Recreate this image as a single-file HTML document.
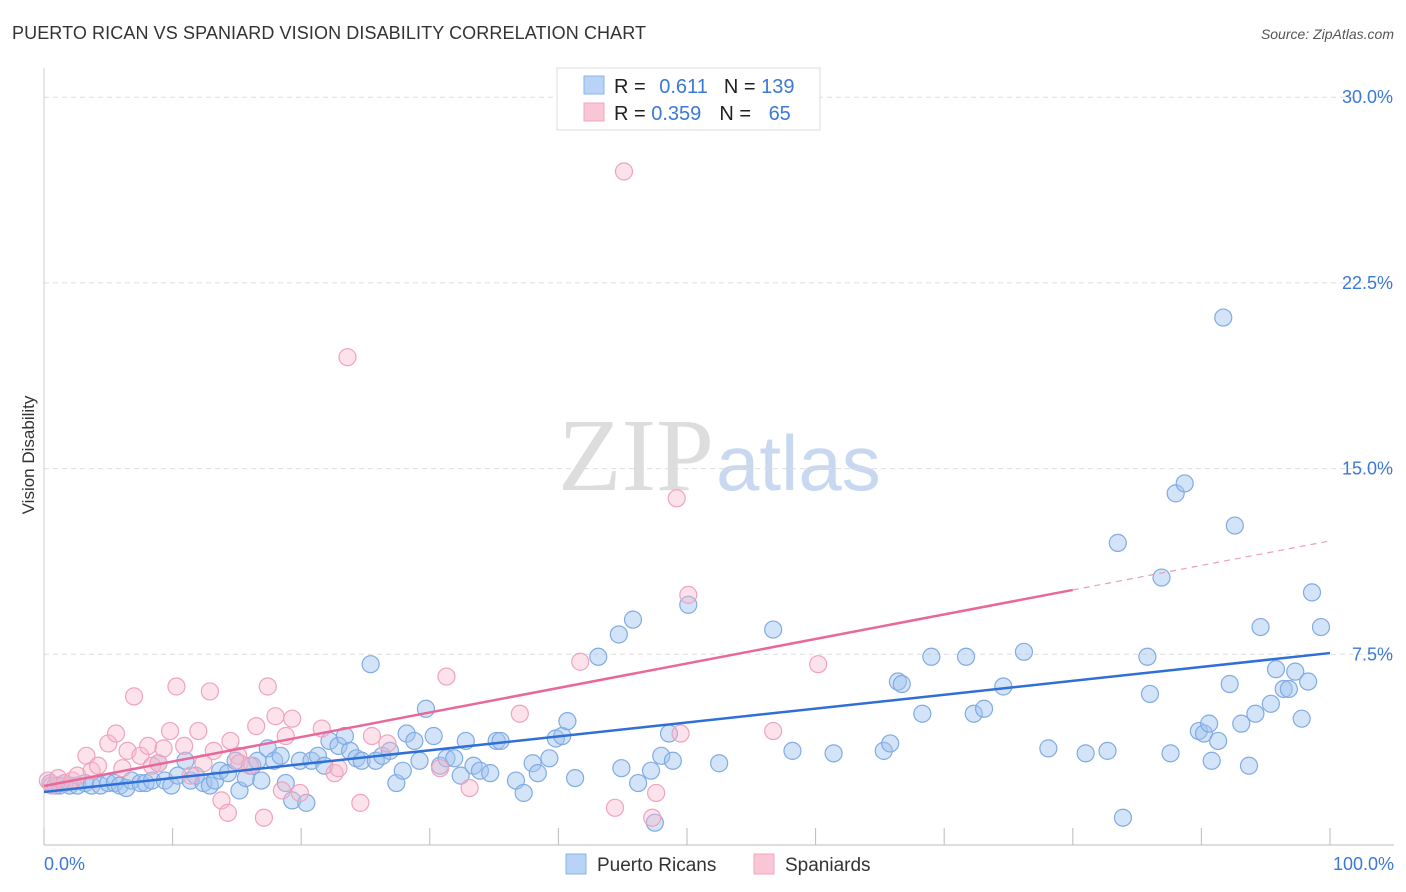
<!DOCTYPE html>
<html><head><meta charset="utf-8"><style>
body{margin:0;background:#fff;font-family:"Liberation Sans",sans-serif;}
svg{display:block}
</style></head><body>
<svg id="chart" width="1406" height="892" xmlns="http://www.w3.org/2000/svg">
<text x="12" y="39" font-size="18" letter-spacing="0.1" fill="#333">PUERTO RICAN VS SPANIARD VISION DISABILITY CORRELATION CHART</text>
<text x="1394" y="39" font-size="14" fill="#555" font-style="italic" text-anchor="end">Source: ZipAtlas.com</text>
<text x="714" y="490" font-size="104" fill="#ddd" text-anchor="end" font-family="Liberation Serif">ZIP</text>
<text x="716" y="490" font-size="78" fill="#c8d8f0">atlas</text>
<text x="34" y="455" font-size="17" fill="#333" transform="rotate(-90 34 455)" text-anchor="middle">Vision Disability</text>
<g id="grid"></g><g id="pts"></g><g id="lines"></g>
<g>
<rect x="557" y="68" width="263" height="62" fill="#fff" stroke="#ddd"/>
<rect x="584" y="76" width="20" height="18" fill="#b8d3f5" stroke="#8ab4ea"/>
<rect x="584" y="103" width="20" height="18" fill="#f9c6d5" stroke="#f0a5bd"/>
<text x="614" y="93" font-size="20" fill="#222">R = <tspan fill="#3b78d8" dx="8">0.611</tspan><tspan dx="16" fill="#222">N = </tspan><tspan fill="#3b78d8">139</tspan></text>
<text x="614" y="120" font-size="20" fill="#222">R = <tspan fill="#3b78d8">0.359</tspan><tspan dx="18" fill="#222">N = </tspan><tspan fill="#3b78d8" dx="12">65</tspan></text>
</g>
<g>
<rect x="566" y="854" width="20" height="20" fill="#b8d3f5" stroke="#8ab4ea"/>
<text x="597" y="871" font-size="19" fill="#333">Puerto Ricans</text>
<rect x="754" y="854" width="20" height="20" fill="#f9c6d5" stroke="#f0a5bd"/>
<text x="785" y="871" font-size="19" fill="#333">Spaniards</text>
</g>
</svg>
<script>
const yTicks=[7.5,15,22.5,30];
const yTickLabels=["7.5%","15.0%","22.5%","30.0%"];
const xTickLabels=["0.0%","100.0%"];
const blueX=[0.5,0.9,1.2,1.6,2.0,2.6,3.2,3.7,4.4,5.0,5.5,5.9,6.4,6.8,7.5,7.9,8.4,8.9,9.4,9.9,10.4,11.0,11.4,11.8,12.4,12.9,13.3,13.7,14.3,14.9,15.2,15.7,16.2,16.6,16.9,17.4,17.9,18.4,18.8,19.3,19.9,20.4,20.8,21.3,21.8,22.2,22.9,23.4,23.8,24.3,24.7,25.4,25.8,26.3,26.9,27.4,27.9,28.2,28.8,29.2,29.7,30.3,30.8,31.3,31.9,32.4,32.8,33.4,33.9,34.7,35.2,35.5,36.7,37.3,38.0,38.4,39.3,39.8,40.3,40.7,41.3,43.1,44.7,44.9,45.8,46.2,47.2,47.5,48.0,48.6,48.9,50.1,52.5,56.7,58.2,61.4,65.3,65.8,66.4,66.7,68.3,69.0,71.7,72.3,73.1,74.6,76.2,78.1,81.0,82.7,83.5,83.9,85.8,86.0,86.9,87.6,88.0,88.7,89.8,90.2,90.6,90.8,91.3,91.7,92.2,92.6,93.1,93.7,94.2,94.6,95.4,95.8,96.4,96.8,97.3,97.8,98.3,98.6,99.3];
const blueY=[2.3,2.2,2.2,2.3,2.2,2.2,2.3,2.2,2.2,2.3,2.3,2.2,2.1,2.4,2.3,2.3,2.4,3.1,2.4,2.2,2.6,3.2,2.4,2.6,2.3,2.2,2.4,2.8,2.7,3.2,2.0,2.5,3.0,3.2,2.4,3.7,3.2,3.4,2.3,1.6,3.2,1.5,3.2,3.4,3.0,4.0,3.8,4.2,3.6,3.3,3.2,7.1,3.2,3.4,3.6,2.3,2.8,4.3,4.0,3.2,5.3,4.2,3.0,3.3,3.3,2.6,4.0,3.0,2.8,2.7,4.0,4.0,2.4,1.9,3.1,2.7,3.3,4.1,4.2,4.8,2.5,7.4,8.3,2.9,8.9,2.3,2.8,0.7,3.4,4.3,3.2,9.5,3.1,8.5,3.6,3.5,3.6,3.9,6.4,6.3,5.1,7.4,7.4,5.1,5.3,6.2,7.6,3.7,3.5,3.6,12.0,0.9,7.4,5.9,10.6,3.5,14.0,14.4,4.4,4.3,4.7,3.2,4.0,21.1,6.3,12.7,4.7,3.0,5.1,8.6,5.5,6.9,6.1,6.1,6.8,4.9,6.4,10.0,8.6,9.2];
const pinkX=[0.3,0.6,1.1,1.6,2.2,2.6,3.3,3.7,4.2,5.0,5.6,6.1,6.5,7.0,7.5,8.1,8.4,8.9,9.3,9.8,10.3,10.9,11.4,12.0,12.4,12.9,13.2,13.8,14.3,14.5,15.1,15.2,16.0,16.5,17.1,17.4,18.0,18.5,18.8,19.3,19.9,21.6,22.6,22.9,23.6,24.6,25.5,26.7,30.8,31.3,33.1,37.0,41.7,44.4,45.1,47.3,47.6,49.2,49.5,50.1,56.7,60.2];
const pinkY=[2.4,2.2,2.5,2.3,2.4,2.6,3.4,2.8,3.0,3.9,4.3,2.9,3.6,5.8,3.4,3.8,3.0,3.1,3.7,4.4,6.2,3.8,2.6,4.4,3.1,6.0,3.6,1.6,1.1,4.0,3.4,3.1,3.0,4.6,0.9,6.2,5.0,2.0,4.2,4.9,1.9,4.5,2.7,2.9,19.5,1.5,4.2,3.9,2.9,6.6,2.1,5.1,7.2,1.3,27.0,0.9,1.9,13.8,4.3,9.9,4.4,7.1];
const blueLine=[1.94,7.55];
const pinkLine=[2.18,12.08];
const X=v=>44+v*12.86, Y=v=>840-v*24.76;
const NS="http://www.w3.org/2000/svg";
function mk(p,t,a){const e=document.createElementNS(NS,t);for(const k in a)e.setAttribute(k,a[k]);p.appendChild(e);return e;}
const g=document.getElementById('grid');
yTicks.forEach((t,i)=>{
 const l=mk(g,'line',{x1:44,x2:1394,y1:Y(t),y2:Y(t),stroke:'#ddd','stroke-dasharray':'5,4'});
 
 
 const tx=mk(g,'text',{x:1393,y:Y(t)+6,'font-size':18,fill:'#3b78d8','text-anchor':'end'});tx.textContent=yTickLabels[i];
 
 
});
const ax=mk(g,'line',{x1:44,x2:1394,y1:845,y2:845,stroke:'#bbb'});


const ay=mk(g,'line',{x1:44,x2:44,y1:68,y2:845,stroke:'#ccc'});


for(let i=0;i<=10;i++){const t=mk(g,'line',{x1:X(i*10),x2:X(i*10),y1:828,y2:845,stroke:'#bbb'});
 
 }
[[0,'start',44],[100,'end',1394]].forEach((d,i)=>{const t=mk(g,'text',{x:d[2],y:870,'font-size':18,fill:'#3b78d8','text-anchor':d[1]});t.textContent=xTickLabels[i];
 
 });
const pg=document.getElementById('pts');
blueX.forEach((x,i)=>{const c=mk(pg,'circle',{cx:X(x),cy:Y(blueY[i]),r:8.5,fill:'rgba(160,196,240,0.45)',stroke:'#80abe3','stroke-width':1.2});
 
 });
pinkX.forEach((x,i)=>{const c=mk(pg,'circle',{cx:X(x),cy:Y(pinkY[i]),r:8.5,fill:'rgba(247,185,205,0.4)',stroke:'#f0a3bb','stroke-width':1.2});
 
 });
const lg=document.getElementById('lines');
const bl=mk(lg,'line',{x1:X(0),y1:Y(blueLine[0]),x2:X(100),y2:Y(blueLine[1]),stroke:'#2f6fd6','stroke-width':2.5});


const pAt=v=>pinkLine[0]+(pinkLine[1]-pinkLine[0])*v/100;
const pl=mk(lg,'line',{x1:X(0),y1:Y(pAt(0)),x2:X(80),y2:Y(pAt(80)),stroke:'#e8689a','stroke-width':2.5});


const pd=mk(lg,'line',{x1:X(80),y1:Y(pAt(80)),x2:X(100),y2:Y(pAt(100)),stroke:'#e8a0b8','stroke-width':1.2,'stroke-dasharray':'6,5'});


</script>
</body></html>
